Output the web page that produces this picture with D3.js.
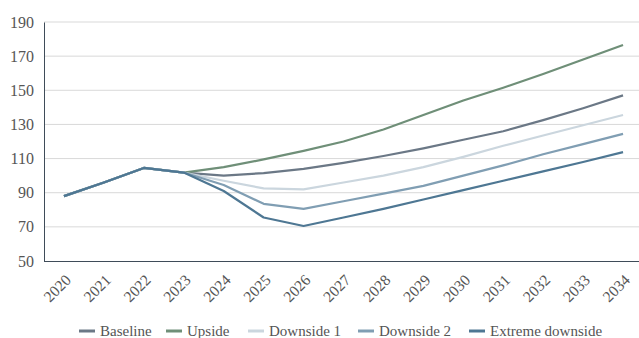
<!DOCTYPE html>
<html><head><meta charset="utf-8">
<script src="https://cdn.jsdelivr.net/npm/d3@7"></script>
<style>
body{margin:0;background:#fff;}
</style></head>
<body><svg id="c" width="639" height="338"></svg>
<script>
const years = ["2020","2021","2022","2023","2024","2025","2026","2027","2028","2029","2030","2031","2032","2033","2034"];
const yTicks = [50,70,90,110,130,150,170,190];
const baseline = [88,96,104.5,101.8,100,101.5,104,107.5,111.5,116,121,126,132.5,139.5,147];
const upside   = [88,96,104.5,101.8,105,109.5,114.5,120,127,135.5,144,151.5,159.5,168,176.5];
const downside1= [88,96,104.5,101.8,97,92.5,92,96,100,105,111,117.5,123.5,129.5,135.5];
const downside2= [88,96,104.5,101.8,94.5,83.5,80.5,85,89.5,94,100,106,112.5,118.5,124.5];
const extreme  = [88,96,104.5,101.8,91,75.5,70.5,75.5,80.5,86,91.5,97,102.5,108,113.8];
const seriesNames = ["Baseline","Upside","Downside 1","Downside 2","Extreme downside"];
const seriesValues = [baseline, upside, downside1, downside2, extreme];
const colors = ["#6b7886","#6f8f78","#cbd6de","#809eb3","#4e7793"];
const FONT = "'Liberation Serif', 'DejaVu Serif', serif";

(function(){
const svg = d3.select("#c");
const mL = 44, mR = 643, mT = 22, mB = 261;
const x = d3.scaleBand().domain(years).range([mL, mR]);
const y = d3.scaleLinear().domain([50,190]).range([mB, mT]);
const cx = d => x(d) + x.bandwidth()/2;

svg.append("g").selectAll("line").data(yTicks.slice(1)).join("line")
  .attr("x1", mL).attr("x2", 639).attr("y1", d=>y(d)).attr("y2", d=>y(d))
  .attr("stroke", "#d9d9d9").attr("stroke-width", 1);

const ya = svg.append("g").attr("transform", `translate(${mL},0)`)
  .call(d3.axisLeft(y).tickValues(yTicks).tickSize(0).tickPadding(10))
  .attr("font-family", FONT).attr("font-size", 16);
ya.select(".domain").attr("stroke", "#3f4c59");
ya.selectAll("text").style("font-family", FONT).attr("fill", "#555");

const xa = svg.append("g").attr("transform", `translate(0,${mB})`)
  .call(d3.axisBottom(x).tickSize(0).tickSizeOuter(0))
  .attr("font-family", FONT).attr("font-size", 15.5);
xa.select(".domain").attr("stroke", "#3f4c59").attr("d", `M${mL},0.5H639`);
xa.selectAll("text").style("font-family", FONT).attr("fill", "#555")
  .attr("text-anchor", "end")
  .attr("transform", "translate(8,20) rotate(-45)")
  .attr("dy", 0).attr("y", 0).attr("x", 0);

const line = d3.line().x((d,i)=>cx(years[i])).y(d=>y(d));
svg.append("g").selectAll("path").data(seriesValues).join("path")
  .attr("d", d=>line(d)).attr("fill","none")
  .attr("stroke", (d,i)=>colors[i]).attr("stroke-width", 2.2)
  .attr("stroke-linejoin","round");

const legX = [79, 166, 248, 358, 469];
const lg = svg.append("g").selectAll("g").data(seriesNames).join("g")
  .attr("transform", (d,i)=>`translate(${legX[i]},331)`);
lg.append("line").attr("x1",0).attr("x2",16).attr("y1",0).attr("y2",0)
  .attr("stroke",(d,i)=>colors[i]).attr("stroke-width",3);
lg.append("text").attr("x",21).attr("dy","0.35em")
  .style("font-family", FONT).style("font-size","15px")
  .attr("fill","#555").text(d=>d);
})();
</script></body></html>
